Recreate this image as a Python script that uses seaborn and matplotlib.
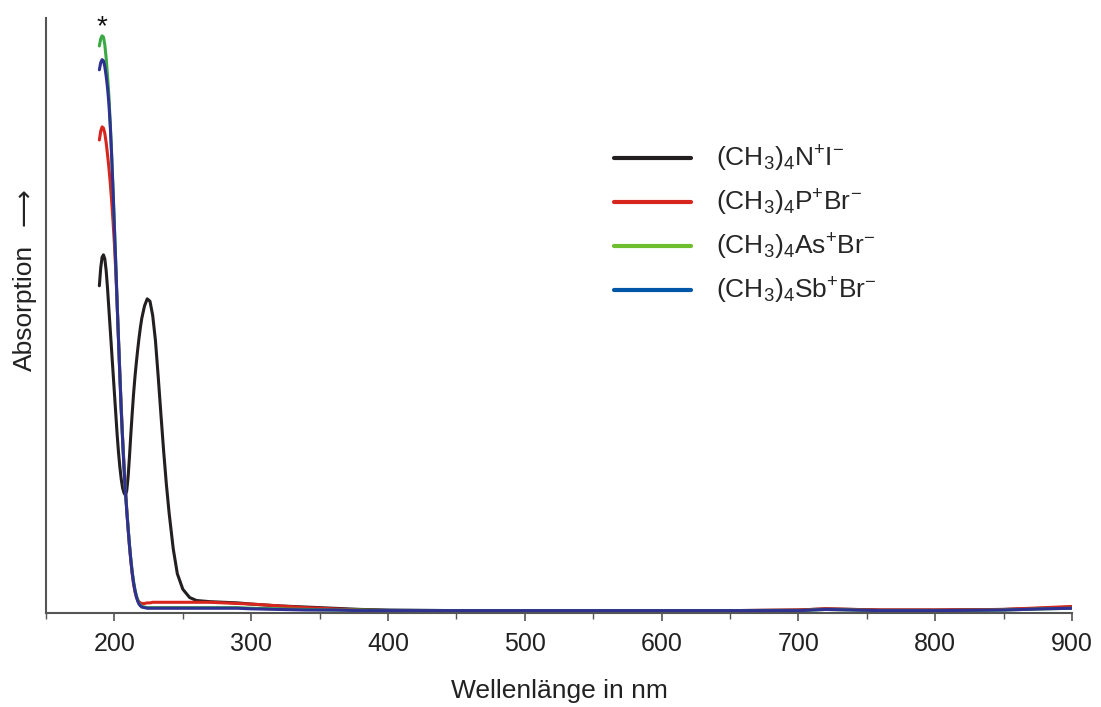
import numpy as np
import pandas as pd
import matplotlib
matplotlib.use("Agg")
import matplotlib.pyplot as plt
from matplotlib import font_manager
from matplotlib.ticker import MultipleLocator
import seaborn as sns

# Wavelength grid (nm) shared by all four spectra
wavelength = [189, 190, 191, 192, 193, 194, 195, 196, 197, 198, 199, 200, 201, 202,
              203, 204, 205, 206, 207, 208, 209, 210, 211, 212, 213, 214, 215, 216,
              217, 218, 219, 220, 222, 224, 226, 228, 230, 232, 234, 236, 238, 240,
              243, 246, 250, 255, 260, 270, 280, 290, 300, 320, 340, 360, 380, 400,
              450, 500, 550, 600, 650, 700, 720, 740, 760, 800, 850, 880, 900]

# Absorbance (arbitrary units)
abs_n = [0.550, 0.580, 0.598, 0.602, 0.595, 0.575, 0.545, 0.510, 0.475, 0.440, 0.405,
         0.370, 0.335, 0.300, 0.270, 0.245, 0.225, 0.210, 0.202, 0.198, 0.205, 0.228,
         0.262, 0.300, 0.335, 0.368, 0.396, 0.420, 0.442, 0.462, 0.480, 0.495, 0.516,
         0.528, 0.524, 0.500, 0.458, 0.398, 0.334, 0.272, 0.216, 0.168, 0.108, 0.066,
         0.040, 0.026, 0.021, 0.019, 0.018, 0.017, 0.015, 0.012, 0.010, 0.008, 0.006,
         0.005, 0.004, 0.004, 0.004, 0.004, 0.004, 0.005, 0.007, 0.006, 0.005, 0.005,
         0.006, 0.008, 0.010]
abs_p = [0.795, 0.810, 0.817, 0.815, 0.806, 0.790, 0.770, 0.748, 0.722, 0.692, 0.658,
         0.620, 0.575, 0.520, 0.460, 0.402, 0.345, 0.295, 0.250, 0.210, 0.175, 0.143,
         0.113, 0.088, 0.066, 0.049, 0.036, 0.027, 0.022, 0.019, 0.017, 0.016, 0.016,
         0.017, 0.017, 0.018, 0.018, 0.018, 0.018, 0.018, 0.018, 0.018, 0.018, 0.018,
         0.018, 0.018, 0.018, 0.018, 0.017, 0.016, 0.015, 0.012, 0.009, 0.007, 0.005,
         0.004, 0.004, 0.004, 0.004, 0.004, 0.004, 0.005, 0.007, 0.006, 0.005, 0.005,
         0.006, 0.009, 0.011]
abs_as = [0.953, 0.965, 0.970, 0.968, 0.955, 0.932, 0.902, 0.868, 0.822, 0.770, 0.712,
          0.650, 0.588, 0.522, 0.460, 0.400, 0.342, 0.292, 0.246, 0.208, 0.174, 0.144,
          0.116, 0.091, 0.070, 0.053, 0.040, 0.030, 0.022, 0.016, 0.013, 0.011, 0.010,
          0.009, 0.009, 0.009, 0.009, 0.009, 0.009, 0.009, 0.009, 0.009, 0.009, 0.009,
          0.009, 0.009, 0.009, 0.009, 0.009, 0.009, 0.008, 0.007, 0.006, 0.005, 0.005,
          0.004, 0.004, 0.004, 0.004, 0.004, 0.004, 0.004, 0.006, 0.005, 0.004, 0.004,
          0.005, 0.007, 0.008]
abs_sb = [0.913, 0.925, 0.930, 0.928, 0.918, 0.902, 0.882, 0.855, 0.818, 0.768, 0.710,
          0.648, 0.586, 0.520, 0.458, 0.398, 0.340, 0.290, 0.244, 0.206, 0.172, 0.142,
          0.114, 0.089, 0.068, 0.051, 0.038, 0.028, 0.020, 0.015, 0.012, 0.010, 0.009,
          0.008, 0.008, 0.008, 0.008, 0.008, 0.008, 0.008, 0.008, 0.008, 0.008, 0.008,
          0.008, 0.008, 0.008, 0.008, 0.008, 0.008, 0.007, 0.006, 0.005, 0.005, 0.004,
          0.004, 0.004, 0.004, 0.004, 0.004, 0.004, 0.004, 0.006, 0.005, 0.004, 0.004,
          0.005, 0.007, 0.008]

compounds = [r"$\mathregular{(CH_3)_4N^{+}I^{-}}$",
             r"$\mathregular{(CH_3)_4P^{+}Br^{-}}$",
             r"$\mathregular{(CH_3)_4As^{+}Br^{-}}$",
             r"$\mathregular{(CH_3)_4Sb^{+}Br^{-}}$"]
line_colors = ["#231f20", "#d7261e", "#3aa844", "#2e3192"]
legend_colors = ["#231f20", "#d7261e", "#6dbe2c", "#0057a8"]

frames = []
for name, values in zip(compounds, [abs_n, abs_p, abs_as, abs_sb]):
    frames.append(pd.DataFrame({"wl": wavelength, "A": values, "compound": name}))
df = pd.concat(frames, ignore_index=True)

sns.set_theme(style="ticks")
available = {f.name for f in font_manager.fontManager.ttflist}
base_font = "Liberation Sans Narrow" if "Liberation Sans Narrow" in available else "Liberation Sans"
plt.rcParams["font.family"] = [base_font, "DejaVu Sans"]
plt.rcParams["mathtext.fontset"] = "custom"
plt.rcParams["mathtext.rm"] = base_font
plt.rcParams["mathtext.it"] = base_font
plt.rcParams["mathtext.bf"] = base_font

fig = plt.figure(figsize=(11.01, 7.07), dpi=100)
ax = fig.add_axes([46 / 1101, 1 - 613 / 707, (1072 - 46) / 1101, (613 - 18) / 707])

sns.lineplot(data=df, x="wl", y="A", hue="compound", hue_order=compounds,
             palette=dict(zip(compounds, line_colors)), linewidth=2.2,
             sort=False, estimator=None, ax=ax)

ax.set_xlim(150, 900)
ax.set_ylim(0, 1.0)
ax.set_yticks([])
ax.xaxis.set_minor_locator(MultipleLocator(50))
ax.set_xticks(range(200, 901, 100))
ax.tick_params(axis="x", which="major", length=6, width=1.2, color="#555555",
               labelsize=18, pad=8, labelcolor="#222222")
ax.tick_params(axis="x", which="minor", length=4, width=1.0, color="#555555")
for side in ["top", "right"]:
    ax.spines[side].set_visible(False)
for side in ["left", "bottom"]:
    ax.spines[side].set_color("#555555")
    ax.spines[side].set_linewidth(1.5)

ax.set_xlabel("Wellenlänge in nm", fontsize=19, color="#222222", labelpad=16)
ax.set_ylabel("Absorption", fontsize=19, color="#222222")
ax.yaxis.set_label_coords(-0.009, 0.513)
# direction arrow above the axis label
fig.text(25 / 1101, 1 - 207 / 707, "\u27f6", rotation=90, fontsize=19,
         family=["DejaVu Sans"], ha="center", va="center", color="#222222")

ax.text(190.5, 0.985, "*", fontsize=20, ha="center", va="center", color="#111111")

leg = ax.legend(loc="upper left", bbox_to_anchor=(614 / 1101, 1 - 144 / 707),
                bbox_transform=fig.transFigure, frameon=False, fontsize=19,
                handlelength=2.9, handletextpad=0.95, labelspacing=0.52,
                borderaxespad=0, borderpad=0)
for handle, col in zip(leg.legend_handles, legend_colors):
    handle.set_color(col)
    handle.set_linewidth(3)

fig.savefig("out.png", dpi=100)
